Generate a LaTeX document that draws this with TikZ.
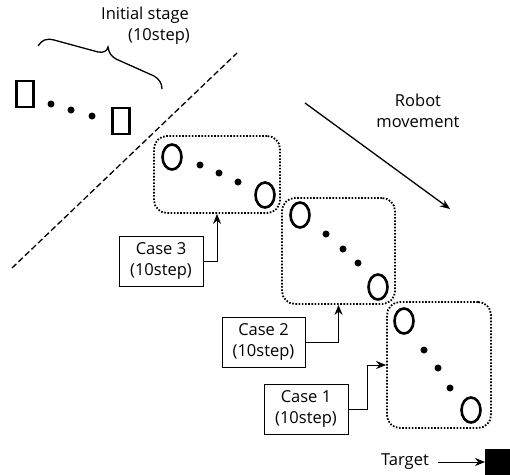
\documentclass[tikz,border=0pt]{standalone}
\usepackage{fontspec}
\setmainfont{Open Sans}
\usetikzlibrary{shapes.geometric,arrows.meta}
\begin{document}
\begin{tikzpicture}[x=1pt,y=-1pt,
  sq/.style={draw,line width=2.6pt,minimum width=17pt,minimum height=26pt,inner sep=0pt},
  ov/.style={draw,ellipse,line width=2.6pt,minimum width=19pt,minimum height=25pt,inner sep=0pt},
  dt/.style={circle,fill,minimum size=7pt,inner sep=0pt},
  grp/.style={draw,line width=1.8pt,dash pattern=on 1.6pt off 1.6pt,rounded corners=13pt,inner sep=0pt},
  cs/.style={draw,line width=0.9pt,inner sep=0pt,align=center,font=\fontsize{16.5}{21}\selectfont},
  lbl/.style={align=center,inner sep=0pt,font=\fontsize{16.5}{21}\selectfont},
  arr/.style={-{Stealth[length=10pt,width=8pt]},line width=1pt}]
\useasboundingbox (0,0) rectangle (510,474);
% initial stage
\node[lbl] (init) at (145,26) {Initial stage\\\hspace*{28pt}(10step)};
\draw[line width=1.3pt] (38,46) .. controls (42,40) and (46,38) .. (54,40)
  -- (98,52) .. controls (104,53) and (107,51) .. (108,47)
  .. controls (109,53) and (111,56) .. (116,59)
  -- (154,76) .. controls (159,79) and (162,83) .. (162,89);
\draw[line width=1.3pt,dash pattern=on 6pt off 3pt] (12,268) -- (237,53);
\node[sq] (s1) at (25,94) {};
\node[sq] (s2) at (121,121) {};
\node[dt] (d1) at (51,104) {};
\node[dt] (d2) at (71,110) {};
\node[dt] (d3) at (92,116) {};
% case 3 group
\node[grp,minimum width=126pt,minimum height=77pt] (b3) at (217,174.5) {};
\node[ov] (o31) at (172,157) {};
\node[dt] (e31) at (200,165) {};
\node[dt] (e32) at (219,173) {};
\node[dt] (e33) at (238,182) {};
\node[ov] (o32) at (265,195) {};
% case 2 group
\node[grp,minimum width=113pt,minimum height=106pt] (b2) at (338.5,251) {};
\node[ov] (o21) at (300,215) {};
\node[dt] (e21) at (326,234) {};
\node[dt] (e22) at (343,249) {};
\node[dt] (e23) at (358,263) {};
\node[ov] (o22) at (378,287) {};
% case 1 group
\node[grp,minimum width=104pt,minimum height=126pt] (b1) at (439,365) {};
\node[ov] (o11) at (404,321) {};
\node[dt] (e11) at (424,350) {};
\node[dt] (e12) at (438,368) {};
\node[dt] (e13) at (450,388) {};
\node[ov] (o12) at (471,410) {};
% case labels
\node[cs,minimum width=84pt,minimum height=50pt] (c3) at (161,261) {Case 3\\(10step)};
\node[cs,minimum width=83pt,minimum height=50pt] (c2) at (263.5,342) {Case 2\\(10step)};
\node[cs,minimum width=84pt,minimum height=50pt] (c1) at (306,409) {Case 1\\(10step)};
\draw[arr] (c3.east) -| (b3.south);
\draw[arr] (c2.east) -| (b2.south);
\draw[arr] (c1.east) -- ++(19,0) |- (b1.west);
% robot movement
\node[lbl] (rm) at (418,111) {Robot\\movement};
\coordinate (ra) at (305,103);
\coordinate (rb) at (450,209);
\draw[arr,line width=1.3pt] (ra) -- (rb);
% target
\node[lbl] (tg) at (405,462) {Target};
\node[fill,minimum width=26pt,minimum height=26pt,inner sep=0pt,anchor=west] (tsq) at (485,462) {};
\draw[arr,line width=0.8pt] (438,462) -- (tsq.west);
\end{tikzpicture}
\end{document}
